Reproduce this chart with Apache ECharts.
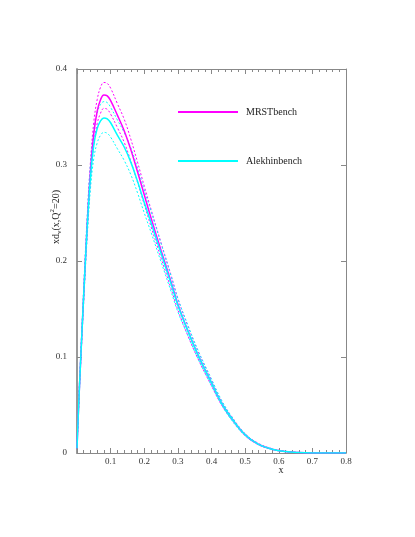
<!DOCTYPE html>
<html>
<head>
<meta charset="utf-8">
<script src="https://cdn.jsdelivr.net/npm/echarts@6/dist/echarts.min.js"></script>
<style>
  html, body { margin: 0; padding: 0; background: #fff; }
  #chart { width: 415px; height: 537px; }
</style>
</head>
<body>
<div id="chart"></div>
<script>
// x grid shared by all curves
var xs = [0, 0.005, 0.01, 0.02, 0.03, 0.04, 0.05, 0.06, 0.07, 0.08, 0.09, 0.10,
  0.12, 0.14, 0.16, 0.18, 0.20, 0.22, 0.25, 0.28, 0.30, 0.33, 0.36, 0.40,
  0.43, 0.46, 0.50, 0.54, 0.58, 0.62, 0.66, 0.70, 0.75, 0.80];

// MRST central / upper / lower
var mrst = [0.005, 0.05, 0.09, 0.165, 0.235, 0.293, 0.333, 0.356, 0.368, 0.373, 0.372, 0.367,
  0.352, 0.336, 0.316, 0.293, 0.269, 0.245, 0.211, 0.178, 0.155, 0.127, 0.102, 0.073,
  0.052, 0.036, 0.019, 0.009, 0.004, 0.0015, 0.0005, 0.0001, 0, 0];
var mrstUp = [0.005, 0.052, 0.093, 0.171, 0.243, 0.303, 0.345, 0.368, 0.381, 0.386, 0.385, 0.380,
  0.364, 0.348, 0.327, 0.303, 0.278, 0.254, 0.219, 0.185, 0.161, 0.132, 0.106, 0.076,
  0.054, 0.038, 0.020, 0.010, 0.0045, 0.0017, 0.0006, 0.0001, 0, 0];
var mrstLo = [0.005, 0.048, 0.087, 0.159, 0.226, 0.282, 0.321, 0.343, 0.354, 0.359, 0.358, 0.353,
  0.339, 0.324, 0.304, 0.282, 0.259, 0.236, 0.203, 0.171, 0.149, 0.122, 0.098, 0.070,
  0.050, 0.035, 0.018, 0.0085, 0.0037, 0.0014, 0.0004, 0.0001, 0, 0];

// Alekhin central / upper / lower
var alek = [0.005, 0.05, 0.09, 0.165, 0.233, 0.287, 0.321, 0.338, 0.346, 0.349, 0.348, 0.344,
  0.331, 0.319, 0.303, 0.283, 0.261, 0.240, 0.208, 0.176, 0.154, 0.127, 0.102, 0.073,
  0.052, 0.036, 0.019, 0.009, 0.004, 0.0015, 0.0005, 0.0001, 0, 0];
var alekUp = [0.005, 0.053, 0.095, 0.173, 0.244, 0.301, 0.336, 0.354, 0.363, 0.366, 0.365, 0.360,
  0.347, 0.334, 0.318, 0.297, 0.274, 0.252, 0.218, 0.184, 0.161, 0.133, 0.107, 0.077,
  0.055, 0.038, 0.020, 0.0095, 0.0042, 0.0016, 0.0005, 0.0001, 0, 0];
var alekLo = [0.005, 0.048, 0.086, 0.158, 0.223, 0.275, 0.307, 0.323, 0.331, 0.334, 0.333, 0.329,
  0.317, 0.305, 0.290, 0.271, 0.250, 0.230, 0.199, 0.168, 0.147, 0.122, 0.098, 0.070,
  0.050, 0.034, 0.018, 0.0086, 0.0038, 0.0014, 0.0005, 0.0001, 0, 0];

var legendNames = ["MRSTbench", "Alekhinbench"];

var MAG = "#ff00ff";
var CYN = "#00ffff";
var FONT = "Liberation Serif";

function pairs(ys) {
  return xs.map(function (x, i) { return [x, ys[i]]; });
}

function curve(name, ys, color, dotted) {
  return {
    name: name,
    type: "line",
    data: pairs(ys),
    symbol: "none",
    smooth: 0.4,
    silent: true,
    animation: false,
    z: dotted ? 2 : 3,
    lineStyle: {
      color: color,
      width: dotted ? 1 : 1.5,
      type: dotted ? [2, 2] : "solid",
    },
    itemStyle: { color: color },
  };
}

function axisLine(width, color) {
  return { show: true, onZero: false, lineStyle: { color: color, width: width } };
}

var tickStyle = { show: true, inside: true, length: 5, lineStyle: { color: "#888" } };
var minorStyle = { show: true, splitNumber: 5, length: 3, lineStyle: { color: "#888" } };

var myChart = echarts.init(document.getElementById("chart"));
myChart.setOption({
  backgroundColor: "#fff",
  animation: false,
  grid: { left: 77, right: 69, top: 69, bottom: 84 },
  legend: {
    data: legendNames,
    orient: "vertical",
    left: 178,
    top: 107,
    padding: 0,
    itemWidth: 60,
    itemHeight: 14,
    itemGap: 39,
    icon: "path://M0,6 L60,6 L60,8 L0,8 Z",
    textStyle: { fontFamily: FONT, fontSize: 10, color: "#222", padding: [0, 0, 0, 3] },
    selectedMode: false,
  },
  xAxis: [
    {
      type: "value", min: 0, max: 0.8, interval: 0.1,
      axisLine: axisLine(1, "#888"),
      splitLine: { show: false },
      axisTick: tickStyle,
      minorTick: minorStyle,
      axisLabel: {
        fontFamily: FONT, fontSize: 9, color: "#333", margin: 4,
        formatter: function (v) { return v === 0 ? "" : String(+v.toFixed(1)); },
      },
    },
    {
      type: "value", min: 0, max: 0.8, interval: 0.1, position: "top",
      axisLine: axisLine(1, "#888"),
      splitLine: { show: false },
      axisTick: tickStyle,
      minorTick: minorStyle,
      axisLabel: { show: false },
    },
  ],
  yAxis: [
    {
      type: "value", min: 0, max: 0.4, interval: 0.1,
      axisLine: axisLine(2, "#999"),
      splitLine: { show: false },
      axisTick: tickStyle,
      axisLabel: {
        fontFamily: FONT, fontSize: 9, color: "#333", margin: 10,
        formatter: function (v) { return String(+v.toFixed(1)); },
      },
    },
    {
      type: "value", min: 0, max: 0.4, interval: 0.1, position: "right",
      axisLine: axisLine(1, "#888"),
      splitLine: { show: false },
      axisTick: tickStyle,
      axisLabel: { show: false },
    },
  ],
  graphic: [
    {
      type: "text",
      x: 56, y: 217,
      rotation: Math.PI / 2,
      style: {
        text: "{n|xd}{s|v}{n|(x,Q}{p|2}{n|=20)}",
        align: "center",
        verticalAlign: "middle",
        fill: "#222",
        fontFamily: FONT,
        rich: {
          n: { fontSize: 10, fontFamily: FONT, lineHeight: 14, verticalAlign: "middle" },
          s: { fontSize: 7, fontFamily: FONT, lineHeight: 9, verticalAlign: "bottom" },
          p: { fontSize: 7, fontFamily: FONT, lineHeight: 9, verticalAlign: "top" },
        },
      },
    },
    {
      type: "text",
      x: 281, y: 470,
      style: {
        text: "x", align: "center", verticalAlign: "middle",
        fill: "#222", fontFamily: FONT, fontSize: 10,
      },
    },
  ],
  series: [
    curve("MRSTbench", mrst, MAG, false),
    curve("MRSTup", mrstUp, MAG, true),
    curve("MRSTlo", mrstLo, MAG, true),
    curve("Alekhinbench", alek, CYN, false),
    curve("Alekup", alekUp, CYN, true),
    curve("Aleklo", alekLo, CYN, true),
  ],
}, true);
</script>
</body>
</html>
